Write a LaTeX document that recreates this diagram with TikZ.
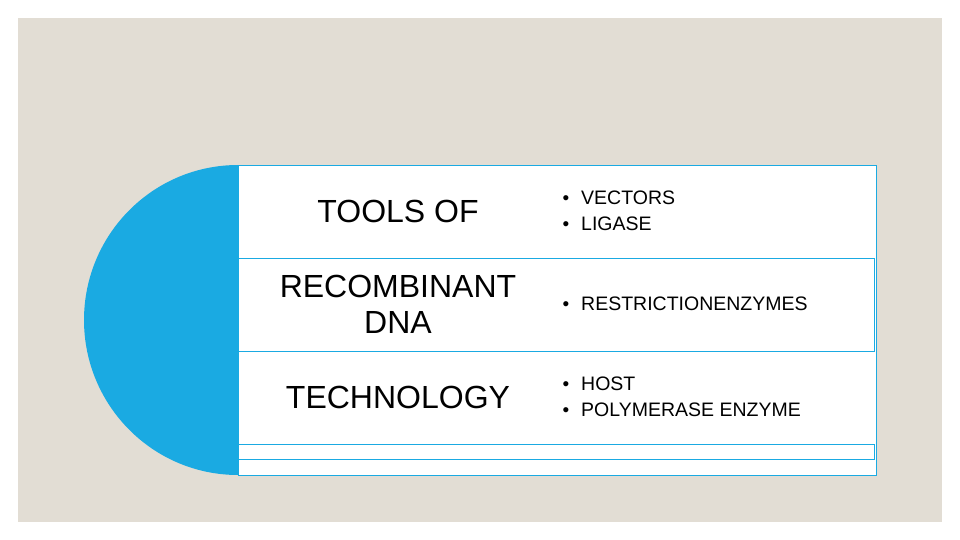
\documentclass[tikz,border=0pt]{standalone}
\usepackage{fontspec}
\setmainfont{Liberation Sans}
\definecolor{beige}{HTML}{E2DDD4}
\definecolor{sky}{HTML}{1AAAE2}
\begin{document}
\begin{tikzpicture}[x=1pt,y=-1pt,
  big/.style={font=\fontsize{32}{36}\selectfont, align=center},
  item/.style={font=\fontsize{19.5}{21}\selectfont, anchor=west, inner sep=0pt},
  dot/.style={font=\fontsize{19}{21}\selectfont, anchor=center, inner sep=0pt},
  row/.style={draw=sky, line width=0.6pt, fill=white}]
\fill[white] (0,0) rectangle (960,540);
\useasboundingbox (0,0) rectangle (960,540);
\fill[beige] (18,18) rectangle (942,522);
\fill[sky] (238,165) arc[start angle=270, end angle=90, x radius=154, y radius=155] -- cycle;
\draw[row] (238,165) rectangle (876,475);
\draw[row] (238,258) rectangle (874,351);
\draw[row] (238,444) rectangle (874,459);
\node[big] (t1) at (398,211) {TOOLS OF};
\node[big] (t2) at (398,304) {RECOMBINANT\\DNA};
\node[big] (t3) at (398,397) {TECHNOLOGY};
\foreach \y/\t [count=\i] in {198/VECTORS,224/LIGASE,304/RESTRICTIONENZYMES,384/HOST,410/POLYMERASE ENZYME}{
  \node[dot] (b\i) at (566,\y+2) {•};
  \node[item] (i\i) at (581,\y) {\t};
}
\end{tikzpicture}
\end{document}
